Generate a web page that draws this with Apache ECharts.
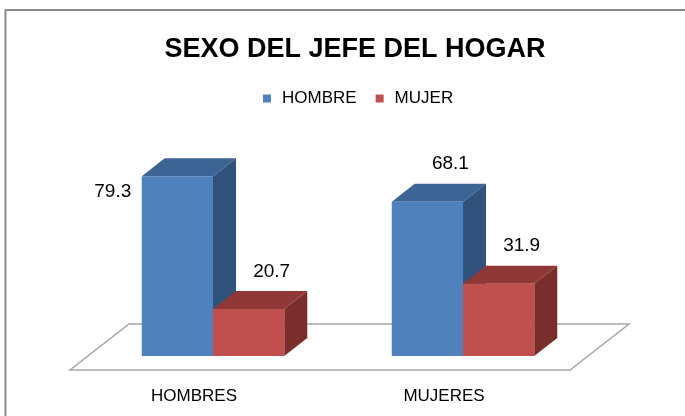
<!DOCTYPE html>
<html>
<head>
<meta charset="utf-8">
<script src="https://cdn.jsdelivr.net/npm/echarts@6/dist/echarts.min.js"></script>
<style>
  html, body { margin: 0; padding: 0; background: #fff; }
  #main { width: 685px; height: 416px; }
</style>
</head>
<body>
<div id="main"></div>
<script>
// datos del grafico
const categories = ['HOMBRES', 'MUJERES'];
const seriesNames = ['HOMBRE', 'MUJER'];
const hombreValues = [79.3, 68.1];
const mujerValues = [20.7, 31.9];

const FONT = "'Liberation Sans', Arial, sans-serif";
// cara frontal, superior y lateral de cada serie
const shades = [
  { front: '#4f81bd', top: '#3c6494', side: '#31527c' },
  { front: '#c0504d', top: '#8f3836', side: '#7a2e2c' }
];
const DX = 23, DY = 18;   // profundidad de las barras

function barRender(idx) {
  return function (params, api) {
    const cat = api.value(0), val = api.value(1);
    const base = api.coord([cat, 0]);
    const top = api.coord([cat, val]);
    const w = api.size([1, 0])[0] * 0.285;
    const x0 = idx === 0 ? base[0] - w : base[0];
    const x1 = x0 + w;
    const yb = base[1], yt = top[1];
    const c = shades[idx];

    // etiqueta: encima de la barra, o a la izquierda si no cabe
    let lx = (x0 + x1) / 2 + 23, ly = yt - 37.5;
    if (ly < params.coordSys.y) { lx = x0 - 29; ly = yt + 15.5; }

    return {
      type: 'group',
      children: [
        { type: 'polygon', shape: { points: [[x1, yb], [x1 + DX, yb - DY], [x1 + DX, yt - DY], [x1, yt]] },
          style: { fill: c.side } },
        { type: 'polygon', shape: { points: [[x0, yt], [x0 + DX, yt - DY], [x1 + DX, yt - DY], [x1, yt]] },
          style: { fill: c.top } },
        { type: 'rect', shape: { x: x0, y: yt, width: w, height: yb - yt },
          style: { fill: c.front } },
        { type: 'text', x: lx, y: ly,
          style: { text: val.toFixed(1), fill: '#000', font: '19px ' + FONT, align: 'center', verticalAlign: 'middle' } }
      ]
    };
  };
}

function floorRender(params, api) {
  const cs = params.coordSys;
  const yb = cs.y + cs.height;
  return {
    type: 'polygon',
    shape: { points: [
      [cs.x - 18, yb + 14], [cs.x + cs.width - 18, yb + 14],
      [cs.x + cs.width + 41, yb - 32], [cs.x + 41, yb - 32]
    ] },
    style: { fill: '#fff', stroke: '#a6a6a6', lineWidth: 1.5 }
  };
}

const chart = echarts.init(document.getElementById('main'));
chart.setOption({
  animation: false,
  backgroundColor: '#fff',
  graphic: [{
    type: 'rect', shape: { x: 5.5, y: 10, width: 720, height: 440 },
    style: { fill: 'none', stroke: '#8c8c8c', lineWidth: 2 }, z: -1
  }],
  title: {
    text: 'SEXO DEL JEFE DEL HOGAR',
    left: 350, top: 31, textAlign: 'center',
    textStyle: { fontFamily: FONT, fontSize: 27, fontWeight: 'bold', color: '#000' }
  },
  legend: {
    data: seriesNames,
    left: 263, top: 90, padding: 0,
    icon: 'rect', itemWidth: 8, itemHeight: 8, itemGap: 19,
    textStyle: { fontFamily: FONT, fontSize: 17, color: '#000', padding: [0, 0, 0, 6] }
  },
  grid: { left: 88, right: 97, top: 152, bottom: 60 },
  xAxis: {
    type: 'category', data: categories,
    axisLine: { show: false }, axisTick: { show: false },
    axisLabel: { margin: 32, padding: [0, 38, 0, 0], fontFamily: FONT, fontSize: 17, color: '#000' }
  },
  yAxis: {
    type: 'value', min: 0, max: 90,
    axisLine: { show: false }, axisTick: { show: false },
    axisLabel: { show: false }, splitLine: { show: false }
  },
  series: [
    { type: 'custom', name: 'floor', silent: true, clip: false, z: 1,
      data: [[0, 0]], renderItem: floorRender },
    { type: 'custom', name: seriesNames[0], clip: false, z: 2,
      itemStyle: { color: shades[0].front },
      encode: { x: 0, y: 1 },
      data: hombreValues.map((v, i) => [i, v]), renderItem: barRender(0) },
    { type: 'custom', name: seriesNames[1], clip: false, z: 3,
      itemStyle: { color: shades[1].front },
      encode: { x: 0, y: 1 },
      data: mujerValues.map((v, i) => [i, v]), renderItem: barRender(1) }
  ]
});
</script>
</body>
</html>
